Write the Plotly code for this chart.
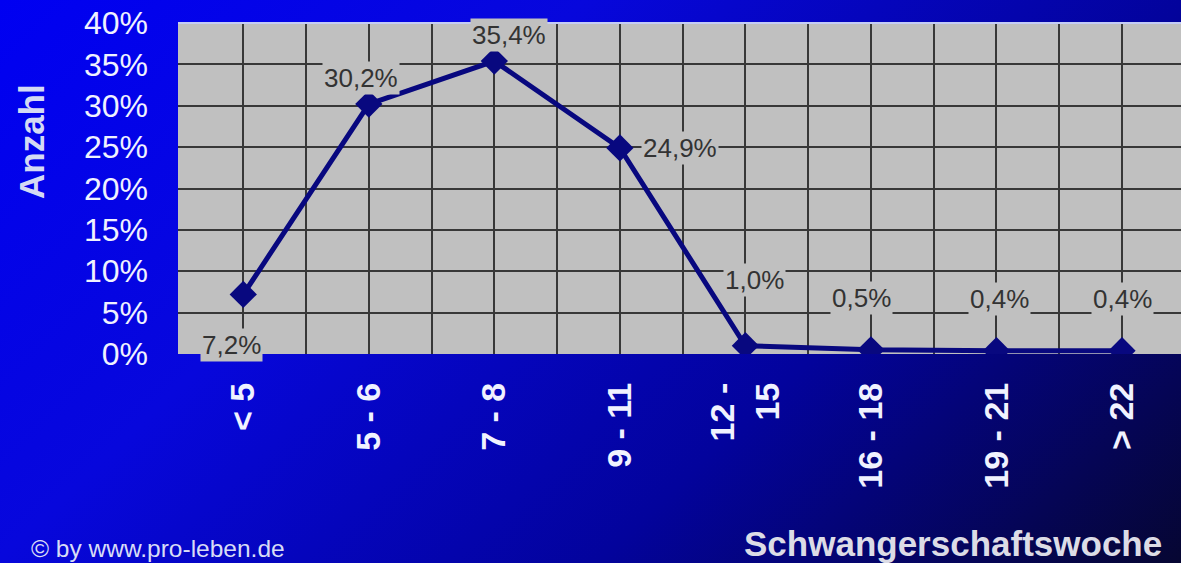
import base64
import plotly.graph_objects as go

categories = ["&lt; 5", "5 - 6", "7 - 8", "9 - 11", "12 -<br>15", "16 - 18", "19 - 21", "&gt; 22"]
values = [0.072, 0.302, 0.354, 0.249, 0.010, 0.005, 0.004, 0.004]
y_ticks = [0, 0.05, 0.10, 0.15, 0.20, 0.25, 0.30, 0.35, 0.40]
# pixel offsets of the data labels (styling)
label_shift = [(-12, -51), (-8, 26), (15, 26), (60, 0), (9, 66), (-9, 52), (3, 52), (0, 52)]

W, H = 1181, 563
L, R, T, B = 178, 0, 23, 209
pw, ph = W - L - R, H - T - B

svg = f'''<svg xmlns="http://www.w3.org/2000/svg" width="{W}" height="{H}" viewBox="0 0 {W} {H}" preserveAspectRatio="none">
<defs><linearGradient id="g" x1="0" y1="0" x2="1.2" y2="0.6">
<stop offset="0" stop-color="#0000f2"/>
<stop offset="0.33" stop-color="#0707dc"/>
<stop offset="0.67" stop-color="#03039c"/>
<stop offset="1" stop-color="#060632"/>
</linearGradient></defs>
<rect x="0" y="0" width="{W}" height="{H}" fill="url(#g)"/></svg>'''
src = "data:image/svg+xml;base64," + base64.b64encode(svg.encode()).decode()

FONT = "Liberation Sans, Arial"
x = list(range(len(categories)))
fig = go.Figure()
fig.add_trace(go.Scatter(
    x=x, y=values, mode="lines+markers",
    line=dict(color="#08087f", width=5),
    marker=dict(symbol="diamond", size=21, color="#08087f"),
    hoverinfo="skip", showlegend=False,
))

for xi, v, (dx, dy) in zip(x, values, label_shift):
    fig.add_annotation(
        x=xi, y=v, xref="x", yref="y", showarrow=False,
        text=f"{v*100:.1f}%".replace(".", ","),
        xshift=dx, yshift=dy, xanchor="center", yanchor="middle",
        font=dict(family=FONT, size=26, color="#333333"),
        bgcolor="#c0c0c0", borderpad=1,
    )

fig.add_annotation(
    x=(31 - L) / pw, y=(H - B - 142) / ph, xref="paper", yref="paper",
    xanchor="center", yanchor="middle",
    text="<b>Anzahl</b>", textangle=-90, showarrow=False,
    font=dict(family=FONT, size=35, color="#d4daf4"),
)
fig.add_annotation(
    x=(1164 - L) / pw, y=(H - B - 543) / ph, xref="paper", yref="paper",
    xanchor="right", yanchor="middle",
    text="<b>Schwangerschaftswoche</b>", showarrow=False,
    font=dict(family=FONT, size=35, color="#dcdce6"),
)
fig.add_annotation(
    x=(29 - L) / pw, y=(H - B - 548) / ph, xref="paper", yref="paper",
    xanchor="left", yanchor="middle",
    text="© by www.pro-leben.de", showarrow=False,
    font=dict(family=FONT, size=24.5, color="#d8dcf6"),
)

fig.add_layout_image(
    source=src, xref="paper", yref="paper",
    x=-L / pw, y=1 + T / ph, sizex=W / pw, sizey=H / ph,
    xanchor="left", yanchor="top", sizing="stretch", layer="below",
)
fig.add_shape(type="rect", xref="paper", yref="paper", x0=0, x1=1, y0=0, y1=1,
              fillcolor="#c0c0c0", line=dict(width=0), layer="below")
fig.add_shape(type="line", xref="paper", yref="paper", x0=0, x1=1, y0=1, y1=1,
              line=dict(color="#c4ccf6", width=2), layer="above")

fig.update_layout(
    width=W, height=H,
    margin=dict(l=L, r=R, t=T, b=B, pad=0),
    paper_bgcolor="#0000c0", plot_bgcolor="rgba(0,0,0,0)",
    font=dict(family=FONT, color="#eef0ff"),
    xaxis=dict(
        range=[-0.52, 7.47], tickmode="array", tickvals=x,
        ticktext=[f"<b>{c}</b>" for c in categories],
        tickangle=-90, tickfont=dict(size=34, color="#f0f2ff"),
        showgrid=True, gridcolor="#383838", gridwidth=2,
        minor=dict(tickmode="array", tickvals=[i + 0.5 for i in x[:-1]],
                   showgrid=True, gridcolor="#383838", gridwidth=2, ticks=""),
        zeroline=False, showline=False, ticks="", ticklabelstandoff=21,
        fixedrange=True,
    ),
    yaxis=dict(
        range=[0, 0.40], tickmode="array", tickvals=y_ticks, tickformat=".0%",
        tickfont=dict(size=32, color="#f0f2ff"),
        showgrid=True, gridcolor="#383838", gridwidth=2,
        zeroline=False, showline=False, ticks="", ticklabelstandoff=29,
        fixedrange=True,
    ),
)

fig.write_html("out.html", config={"displayModeBar": False},
               post_script="document.body.style.margin='0';document.body.style.overflow='hidden';")
